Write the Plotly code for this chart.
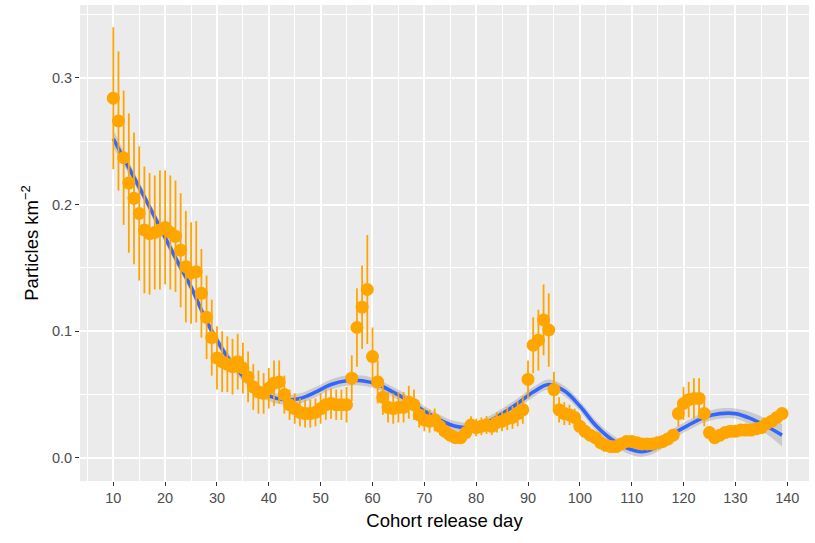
import plotly.graph_objects as go

# ---- data: cohort release day, mean particle density, error half-width ----
days = list(range(10, 140))
density = [
    0.284, 0.266, 0.237, 0.217, 0.205, 0.193, 0.180, 0.177, 0.178, 0.180,   # 10-19
    0.182, 0.178, 0.175, 0.164, 0.151, 0.146, 0.147, 0.130, 0.111, 0.095,   # 20-29
    0.079, 0.076, 0.074, 0.072, 0.076, 0.071, 0.064, 0.056, 0.052, 0.051,   # 30-39
    0.055, 0.059, 0.060, 0.050, 0.042, 0.039, 0.036, 0.035, 0.035, 0.036,   # 40-49
    0.039, 0.042, 0.043, 0.042, 0.042, 0.042, 0.063, 0.103, 0.119, 0.133,   # 50-59
    0.080, 0.060, 0.048, 0.040, 0.039, 0.040, 0.040, 0.044, 0.042, 0.034,   # 60-69
    0.030, 0.029, 0.030, 0.025, 0.021, 0.018, 0.016, 0.016, 0.020, 0.026,   # 70-79
    0.024, 0.025, 0.026, 0.025, 0.028, 0.029, 0.031, 0.032, 0.035, 0.038,   # 80-89
    0.062, 0.089, 0.093, 0.109, 0.101, 0.054, 0.038, 0.035, 0.034, 0.032,   # 90-99
    0.025, 0.021, 0.018, 0.016, 0.012, 0.010, 0.009, 0.009, 0.011, 0.013,   # 100-109
    0.013, 0.012, 0.011, 0.011, 0.011, 0.012, 0.013, 0.015, 0.018, 0.035,   # 110-119
    0.043, 0.046, 0.047, 0.047, 0.035, 0.020, 0.016, 0.018, 0.020, 0.021,   # 120-129
    0.021, 0.022, 0.022, 0.022, 0.023, 0.024, 0.027, 0.029, 0.032, 0.035,   # 130-139
]
error = [
    0.056, 0.055, 0.053, 0.055, 0.052, 0.053, 0.050, 0.048, 0.045, 0.047,   # 10-19
    0.045, 0.045, 0.044, 0.045, 0.044, 0.040, 0.040, 0.035, 0.033, 0.030,   # 20-29
    0.025, 0.024, 0.022, 0.022, 0.022, 0.020, 0.020, 0.018, 0.017, 0.016,   # 30-39
    0.016, 0.018, 0.017, 0.015, 0.012, 0.012, 0.011, 0.011, 0.011, 0.011,   # 40-49
    0.012, 0.012, 0.012, 0.012, 0.012, 0.014, 0.018, 0.031, 0.033, 0.043,   # 50-59
    0.023, 0.017, 0.014, 0.012, 0.012, 0.012, 0.012, 0.013, 0.012, 0.010,   # 60-69
    0.009, 0.009, 0.009, 0.007, 0.006, 0.005, 0.005, 0.005, 0.006, 0.007,   # 70-79
    0.007, 0.007, 0.007, 0.007, 0.008, 0.008, 0.009, 0.009, 0.010, 0.011,   # 80-89
    0.015, 0.022, 0.024, 0.028, 0.029, 0.014, 0.010, 0.009, 0.008, 0.007,   # 90-99
    0.006, 0.005, 0.004, 0.004, 0.003, 0.003, 0.003, 0.003, 0.003, 0.003,   # 100-109
    0.003, 0.003, 0.003, 0.003, 0.003, 0.003, 0.003, 0.004, 0.005, 0.010,   # 110-119
    0.013, 0.014, 0.016, 0.016, 0.010, 0.004, 0.003, 0.003, 0.003, 0.003,   # 120-129
    0.003, 0.003, 0.003, 0.003, 0.003, 0.003, 0.003, 0.003, 0.003, 0.003,   # 130-139
]

# ---- smoothed trend with its confidence band ----
smooth_days = [10, 13, 16, 19, 22, 25, 28, 31, 34, 37, 40, 43, 46, 49, 52, 55,
               58, 61, 64, 67, 70, 73, 76, 79, 82, 85, 88, 91, 94, 97, 100,
               103, 106, 109, 112, 115, 118, 121, 124, 127, 130, 133, 136, 139]
smooth_fit = [0.252, 0.229, 0.206, 0.182, 0.158, 0.135, 0.108, 0.086, 0.069,
              0.057, 0.049, 0.046, 0.047, 0.052, 0.058, 0.061, 0.061, 0.058,
              0.052, 0.045, 0.037, 0.030, 0.025, 0.024, 0.028, 0.035, 0.043,
              0.052, 0.058, 0.053, 0.041, 0.026, 0.015, 0.008, 0.005, 0.009,
              0.019, 0.026, 0.032, 0.035, 0.035, 0.031, 0.025, 0.018]
smooth_se = [0.007, 0.005, 0.004, 0.004, 0.004, 0.004, 0.004, 0.004, 0.004,
             0.004, 0.004, 0.004, 0.004, 0.004, 0.004, 0.004, 0.004, 0.004,
             0.004, 0.004, 0.004, 0.004, 0.004, 0.004, 0.004, 0.004, 0.004,
             0.004, 0.004, 0.004, 0.004, 0.004, 0.004, 0.004, 0.004, 0.004,
             0.004, 0.004, 0.004, 0.004, 0.004, 0.005, 0.006, 0.009]

x_ticks = list(range(10, 150, 10))
y_ticks = [0.0, 0.1, 0.2, 0.3]

lo = [f - s for f, s in zip(smooth_fit, smooth_se)]
hi = [f + s for f, s in zip(smooth_fit, smooth_se)]

ORANGE = "#FFA500"
fig = go.Figure()

fig.add_trace(go.Scatter(x=smooth_days, y=lo, mode="lines", line=dict(width=0, shape="spline"),
                         hoverinfo="skip", showlegend=False))
fig.add_trace(go.Scatter(x=smooth_days, y=hi, mode="lines", line=dict(width=0, shape="spline"),
                         fill="tonexty", fillcolor="rgba(153,153,153,0.4)",
                         hoverinfo="skip", showlegend=False))
fig.add_trace(go.Scatter(x=smooth_days, y=smooth_fit, mode="lines",
                         line=dict(color="#3366FF", width=3.6, shape="spline"),
                         showlegend=False))
fig.add_trace(go.Scatter(x=days, y=density, mode="markers",
                         marker=dict(color=ORANGE, size=13, line=dict(width=0)),
                         error_y=dict(type="data", array=error, visible=True,
                                      color=ORANGE, thickness=1.8, width=0),
                         showlegend=False))

FONT = "Liberation Sans, Arial, sans-serif"
fig.update_layout(
    width=815, height=543,
    margin=dict(l=80, r=6, t=5, b=62, autoexpand=False),
    paper_bgcolor="white",
    plot_bgcolor="#EBEBEB",
    font=dict(family=FONT, color="#4D4D4D", size=14),
    showlegend=False,
)
fig.update_xaxes(
    automargin=False,
    range=[3.58, 144.2],
    tickmode="array", tickvals=x_ticks, ticktext=[str(t) for t in x_ticks],
    showgrid=True, gridcolor="white", gridwidth=1.6,
    minor=dict(showgrid=True, gridcolor="white", gridwidth=0.8, dtick=5, tick0=5),
    zeroline=False, showline=False,
    ticks="outside", ticklen=4, tickwidth=1.2, tickcolor="#333333",
    tickfont=dict(size=14.5, color="#4D4D4D"),
    title=dict(text="Cohort release day", font=dict(size=18.5, color="black"), standoff=8),
)
fig.update_yaxes(
    automargin=False,
    range=[-0.0182, 0.3576],
    tickmode="array", tickvals=y_ticks, ticktext=["0.0", "0.1", "0.2", "0.3"],
    showgrid=True, gridcolor="white", gridwidth=1.6,
    minor=dict(showgrid=True, gridcolor="white", gridwidth=0.8, dtick=0.05, tick0=0.05),
    zeroline=False, showline=False,
    ticks="outside", ticklen=4, tickwidth=1.2, tickcolor="#333333",
    tickfont=dict(size=14.5, color="#4D4D4D"),
    title=dict(text="Particles km<sup>−2</sup>", font=dict(size=18.5, color="black"), standoff=8),
)

fig.write_html("out.html",
               config={"displayModeBar": False},
               post_script="document.body.style.margin='0';document.body.style.overflow='hidden';")
